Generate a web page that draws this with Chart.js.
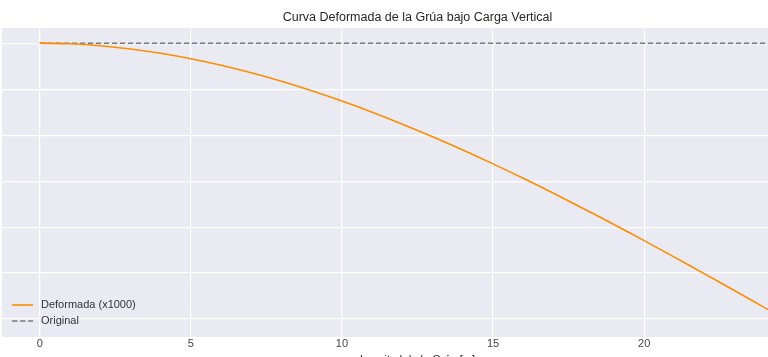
<!DOCTYPE html>
<html><head><meta charset="utf-8">
<script src="https://cdn.jsdelivr.net/npm/chart.js@4/dist/chart.umd.min.js"></script>
<style>
html,body{margin:0;padding:0;background:#fff;overflow:hidden;width:768px;height:357px;}
#wrap{position:absolute;left:0;top:0;width:835px;height:371px;}
</style></head>
<body><div id="wrap"><canvas id="c" width="835" height="371"></canvas></div>
<script>
const positions = [0,1,2,3,4,5,6,7,8,9,10,11,12,13,14,15,16,17,18,19,20,21,22,23,24,25];
const deformada = [0,-0.014,-0.056,-0.125,-0.219,-0.338,-0.480,-0.645,-0.830,-1.036,-1.260,-1.502,-1.761,-2.035,-2.323,-2.625,-2.939,-3.265,-3.600,-3.944,-4.295,-4.653,-5.017,-5.385,-5.756,-6.130];
const original = [0,0,0,0,0,0,0,0,0,0,0,0,0,0,0,0,0,0,0,0,0,0,0,0,0,0];
const xTicks = [0,5,10,15,20,25];
const labels = ["Deformada (x1000)","Original"];
const titleText = "Curva Deformada de la Grúa bajo Carga Vertical";
const xTitle = "Longitud de la Grúa [m]";

const FONT = "'Liberation Sans', Arial, sans-serif";

const bgPlugin = {
  id:'bg',
  beforeDraw(chart){
    const {ctx, chartArea:a} = chart;
    ctx.save(); ctx.fillStyle='#EAEAF2';
    ctx.fillRect(a.left,a.top,a.right-a.left,a.bottom-a.top); ctx.restore();
  }
};
const legendPlugin = {
  id:'inLegend',
  afterDraw(chart){
    const {ctx, chartArea:a} = chart;
    ctx.save();
    ctx.font = "11px " + FONT;
    ctx.textBaseline='middle';
    chart.data.datasets.forEach((ds,i)=>{
      const y = a.bottom - 32 + i*16;
      const x0 = a.left + 10;
      ctx.strokeStyle = ds.borderColor; ctx.lineWidth = ds.borderWidth;
      ctx.setLineDash(ds.borderDash || []);
      ctx.beginPath(); ctx.moveTo(x0,y); ctx.lineTo(x0+21,y); ctx.stroke();
      ctx.setLineDash([]);
      ctx.fillStyle='#333';
      ctx.fillText(ds.label, x0+29, y);
    });
    ctx.restore();
  }
};

new Chart(document.getElementById('c'), {
  type:'line',
  data:{
    datasets:[
      {label:labels[0], data:positions.map((x,i)=>({x, y:deformada[i]})), borderColor:'#FF8C00', borderWidth:1.6, pointRadius:0, tension:0.4, fill:false},
      {label:labels[1], data:positions.map((x,i)=>({x, y:original[i]})), borderColor:'#7a7a7a', borderWidth:1.5, borderDash:[5.5,2.5], pointRadius:0, fill:false}
    ]
  },
  options:{
    responsive:false, animation:false,
    layout:{padding:{left:2, right:2, top:0, bottom:0}},
    plugins:{
      legend:{display:false},
      tooltip:{enabled:false},
      title:{display:true, text:titleText, color:'#262626', font:{family:FONT, size:12.5, weight:'normal', lineHeight:1.2}, padding:{top:10, bottom:3}}
    },
    scales:{
      x:{type:'linear', min:-1.25, max:26.25,
         afterBuildTicks(s){ s.ticks = xTicks.map(v=>({value:v})); },
         afterFit(s){ s.height = 34; },
         ticks:{color:'#444', font:{family:FONT,size:11,lineHeight:1.0}, padding:1, includeBounds:false},
         grid:{color:'#FFFFFF', lineWidth:1.2, drawTicks:false},
         border:{display:false},
         title:{display:true, text:xTitle, color:'#262626', font:{family:FONT,size:11}, padding:{top:0,bottom:4}}
      },
      y:{type:'linear', min:-6.39, max:0.33,
         afterBuildTicks(s){ const t=[]; for(let v=0; v>=-6; v--) t.push({value:v}); s.ticks=t; },
         afterFit(s){ s.width = 0; },
         ticks:{display:false},
         grid:{color:'#FFFFFF', lineWidth:1.2, drawTicks:false},
         border:{display:false}
      }
    }
  },
  plugins:[bgPlugin, legendPlugin]
});
</script></body></html>
